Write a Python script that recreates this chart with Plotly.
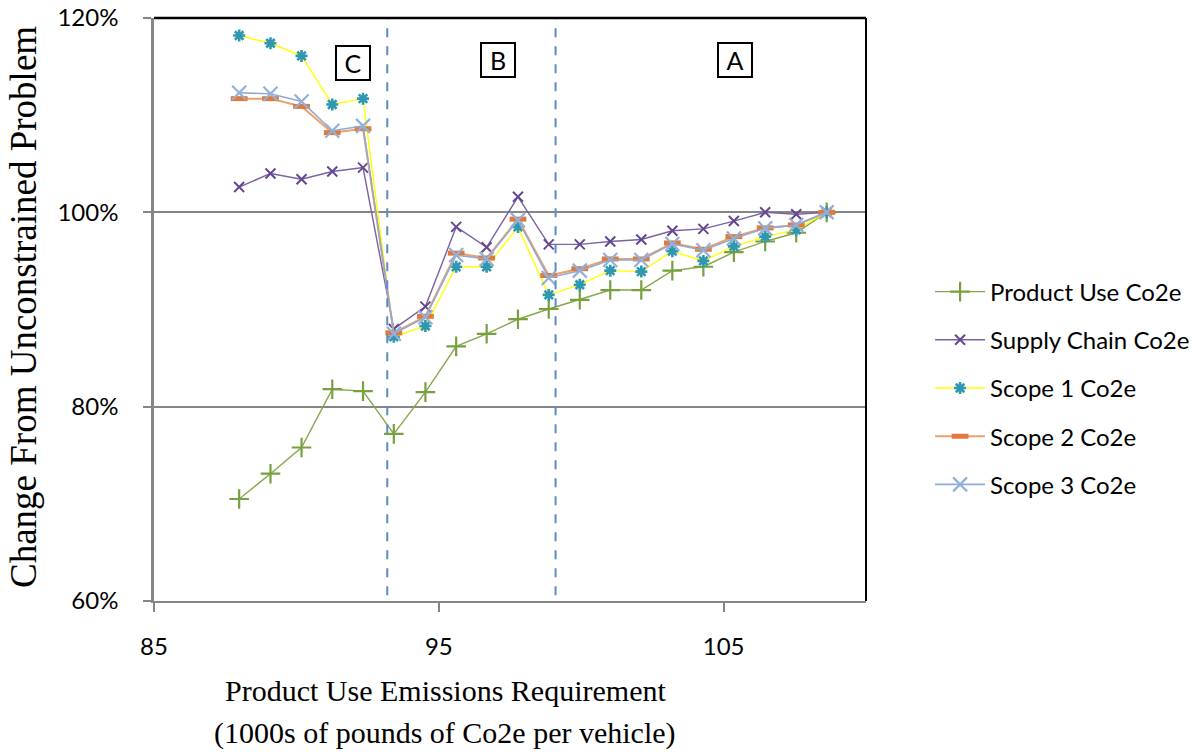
import plotly.graph_objects as go

# ---- data ----
x_req = [87.99, 89.09, 90.18, 91.26, 92.34, 93.42, 94.53, 95.61, 96.68, 97.78,
         98.86, 99.95, 101.02, 102.11, 103.20, 104.29, 105.36, 106.46, 107.55, 108.62]

product_use = [70.5, 73.1, 75.8, 81.8, 81.6, 77.2, 81.5, 86.2, 87.5, 89.0,
               90.05, 91.0, 92.0, 92.0, 94.0, 94.4, 95.9, 97.0, 97.9, 100.0]
supply_chain = [102.6, 104.0, 103.4, 104.2, 104.6, 88.0, 90.3, 98.5, 96.4, 101.6,
                96.7, 96.7, 97.0, 97.2, 98.1, 98.3, 99.1, 100.0, 99.8, 100.0]
scope1 = [118.2, 117.4, 116.1, 111.1, 111.7, 87.2, 88.3, 94.4, 94.4, 98.5,
          91.5, 92.55, 94.0, 93.9, 96.0, 95.0, 96.5, 97.5, 98.2, 100.0]
scope2 = [111.7, 111.7, 110.9, 108.2, 108.6, 87.6, 89.3, 95.8, 95.3, 99.3,
          93.5, 94.2, 95.2, 95.2, 96.85, 96.2, 97.5, 98.4, 98.7, 100.0]
scope3 = [112.3, 112.2, 111.4, 108.4, 108.9, 87.5, 89.2, 95.6, 95.2, 99.2,
          93.25, 94.0, 95.1, 95.1, 96.75, 96.1, 97.3, 98.35, 98.7, 100.0]

series_names = ["Product Use Co2e", "Supply Chain Co2e", "Scope 1 Co2e",
                "Scope 2 Co2e", "Scope 3 Co2e"]

region_bounds = [93.19, 99.1]
region_labels = ["C", "B", "A"]
region_label_x = [91.98, 97.07, 105.4]
region_label_y = [115.4, 115.7, 115.7]

x_ticks = [85, 95, 105]
y_ticks = [60, 80, 100, 120]
y_tick_text = ["60%", "80%", "100%", "120%"]

TICK_FONT = "Lato"
SERIF = "Liberation Serif"

# plot-area geometry (px)
L, R, T, B = 154, 866, 18, 601
W, H = 1196, 755
PW, PH = R - L, B - T

fig = go.Figure()

styles = [
    dict(y=product_use, line=dict(color="#84A84A", width=1.4),
         marker=dict(symbol="cross-thin", size=14, color="#77A03F",
                     line=dict(color="#77A03F", width=2.2))),
    dict(y=supply_chain, line=dict(color="#7A62A3", width=1.4),
         marker=dict(symbol="x-thin", size=10, color="#634890",
                     line=dict(color="#634890", width=2))),
    dict(y=scope1, line=dict(color="#FFFF00", width=1.4),
         marker=dict(symbol="asterisk", size=10, color="#2F98B0",
                     line=dict(color="#2F98B0", width=2.6))),
    dict(y=scope2, line=dict(color="#EFA068", width=2),
         marker=dict(symbol="line-ew", size=12, color="#E0793A",
                     line=dict(color="#E0793A", width=5))),
    dict(y=scope3, line=dict(color="#91ABD3", width=1.6),
         marker=dict(symbol="x-thin", size=14, color="#93B0D8",
                     line=dict(color="#93B0D8", width=2.2))),
]

for i, (name, st) in enumerate(zip(series_names, styles)):
    fig.add_trace(go.Scatter(
        x=x_req, y=st["y"], name=name, mode="lines+markers",
        line=st["line"], marker=st["marker"], legendgroup=f"g{i}",
    ))

# region boundaries
for xb in region_bounds:
    fig.add_shape(type="line", xref="x", yref="paper", x0=xb, x1=xb, y0=0.01, y1=1,
                  line=dict(color="#5B8BC9", width=2, dash="dash"), layer="above")

# region labels
for lab, lx, ly in zip(region_labels, region_label_x, region_label_y):
    fig.add_annotation(x=lx, y=ly, xref="x", yref="y", text=lab, showarrow=False,
                       font=dict(family=TICK_FONT, size=25, color="black"),
                       bordercolor="black", borderwidth=2, borderpad=2,
                       width=28, height=28, bgcolor="white")

# top / right border
fig.add_shape(type="line", xref="paper", yref="paper", x0=0, x1=1, y0=1, y1=1,
              line=dict(color="black", width=2.5))
fig.add_shape(type="line", xref="paper", yref="paper", x0=1, x1=1, y0=0, y1=1,
              line=dict(color="black", width=2))

def px_x(px):
    return (px - L) / PW

def px_y(py):
    return (B - py) / PH

# axis titles
fig.add_annotation(xref="paper", yref="paper", x=px_x(445), y=px_y(690),
                   yanchor="middle", xanchor="center", showarrow=False,
                   text="Product Use Emissions Requirement",
                   font=dict(family=SERIF, size=30, color="black"))
fig.add_annotation(xref="paper", yref="paper", x=px_x(445), y=px_y(733),
                   yanchor="middle", xanchor="center", showarrow=False,
                   text="(1000s of pounds of Co2e per vehicle)",
                   font=dict(family=SERIF, size=30, color="black"))
fig.add_annotation(xref="paper", yref="paper", x=px_x(23), y=px_y(307),
                   xanchor="center", yanchor="middle", showarrow=False, textangle=-90,
                   text="Change From Unconstrained Problem",
                   font=dict(family=SERIF, size=37, color="black"))

fig.update_xaxes(range=[85, 110], tickvals=x_ticks, showgrid=False, zeroline=False,
                 showline=True, linecolor="#868686", linewidth=2,
                 ticks="outside", ticklen=9, tickcolor="#868686", tickwidth=2,
                 tickfont=dict(family=TICK_FONT, size=24, color="black"),
                 ticklabelstandoff=14, automargin=False)
fig.update_yaxes(range=[60, 120], tickvals=y_ticks, ticktext=y_tick_text,
                 showgrid=True, gridcolor="#868686", gridwidth=2, zeroline=False,
                 showline=True, linecolor="#868686", linewidth=2.5,
                 ticks="outside", ticklen=8, tickcolor="#868686", tickwidth=1.5,
                 tickfont=dict(family=TICK_FONT, size=24, color="black"),
                 ticklabelstandoff=20, automargin=False)

fig.update_layout(
    width=W, height=H,
    margin=dict(l=L, r=W - R, t=T, b=H - B, autoexpand=False),
    plot_bgcolor="white", paper_bgcolor="white",
    showlegend=True,
    legend=dict(x=1.09, y=px_y(388), xanchor="left", yanchor="middle",
                font=dict(family=TICK_FONT, size=24, color="black"),
                tracegroupgap=14, itemwidth=50, bgcolor="rgba(0,0,0,0)"),
)

fig.write_html("out.html")
